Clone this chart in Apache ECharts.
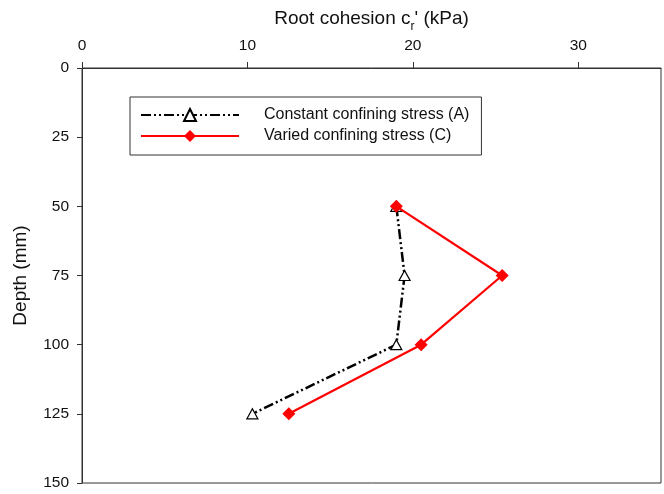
<!DOCTYPE html>
<html>
<head>
<meta charset="utf-8">
<script src="https://cdn.jsdelivr.net/npm/echarts@6/dist/echarts.min.js"></script>
<style>html,body{margin:0;padding:0;background:#fff}#c{width:664px;height:494px}</style>
</head>
<body>
<div id="c"></div>
<script>
var depth = [50, 75, 100, 125];
var cohesionA = [19, 19.5, 19, 10.3];
var cohesionC = [19, 25.4, 20.5, 12.5];
var xTicks = [0, 10, 20, 30];
var yTicks = [0, 25, 50, 75, 100, 125, 150];
var seriesNames = ['Constant confining stress (A)', 'Varied confining stress (C)'];

function pairs(xs, ys) { return xs.map(function (x, i) { return [x, ys[i]]; }); }

var FONT = 'Liberation Sans, Arial, sans-serif';
var chart = echarts.init(document.getElementById('c'), null, {renderer: 'canvas'});
chart.setOption({
  animation: false,
  backgroundColor: '#fff',
  grid: {left: 82, top: 68, right: 3, bottom: 11, show: true, borderColor: '#333', borderWidth: 1, backgroundColor: 'transparent'},
  legend: {
    orient: 'vertical', left: 130, top: 97,
    padding: [10, 12, 11, 10], itemGap: 5,
    borderColor: '#333', borderWidth: 1, borderRadius: 0,
    itemWidth: 98, itemHeight: 15,
    textStyle: {fontFamily: FONT, fontSize: 16, color: '#111', padding: [0, 0, 0, 20]},
    data: seriesNames
  },
  xAxis: {
    type: 'value', position: 'top', min: 0, max: 35, interval: 10,
    name: '{n|Root cohesion c}{s|r}{n|\' (kPa)}', nameLocation: 'middle', nameGap: 38,
    nameMoveOverlap: false,
    nameTextStyle: {rich: {
      n: {fontFamily: FONT, fontSize: 19, color: '#111', lineHeight: 22},
      s: {fontFamily: FONT, fontSize: 12, color: '#111', verticalAlign: 'bottom', lineHeight: 22, padding: [0, 0, -3, 0]}
    }},
    axisLine: {show: true, lineStyle: {color: '#333', width: 1}},
    axisTick: {show: true, length: 6, customValues: xTicks, lineStyle: {color: '#333'}},
    axisLabel: {customValues: xTicks, fontFamily: FONT, fontSize: 15.5, color: '#111', margin: 14},
    splitLine: {show: false}
  },
  yAxis: {
    type: 'value', inverse: true, min: 0, max: 150, interval: 25,
    name: 'Depth (mm)', nameLocation: 'middle', nameGap: 52, nameRotate: 90,
    nameMoveOverlap: false,
    nameTextStyle: {fontFamily: FONT, fontSize: 19, color: '#111'},
    axisLine: {show: true, lineStyle: {color: '#333', width: 1}},
    axisTick: {show: true, length: 5, customValues: yTicks, lineStyle: {color: '#333'}},
    axisLabel: {customValues: yTicks, fontFamily: FONT, fontSize: 15.5, color: '#111', margin: 13},
    splitLine: {show: false}
  },
  series: [
    {
      name: seriesNames[0], type: 'line', data: pairs(cohesionA, depth),
      symbol: 'triangle', symbolSize: [11, 10],
      itemStyle: {color: '#fff', borderColor: '#000', borderWidth: 1.2},
      lineStyle: {color: '#000', width: 2.5, type: [10, 3, 2, 3, 2, 3]},
      z: 2
    },
    {
      name: seriesNames[1], type: 'line', data: pairs(cohesionC, depth),
      symbol: 'diamond', symbolSize: [13, 13],
      itemStyle: {color: '#ff0000', borderColor: '#ff0000', borderWidth: 0},
      lineStyle: {color: '#ff0000', width: 2.2, type: 'solid'},
      z: 3
    }
  ]
});
</script>
</body>
</html>
